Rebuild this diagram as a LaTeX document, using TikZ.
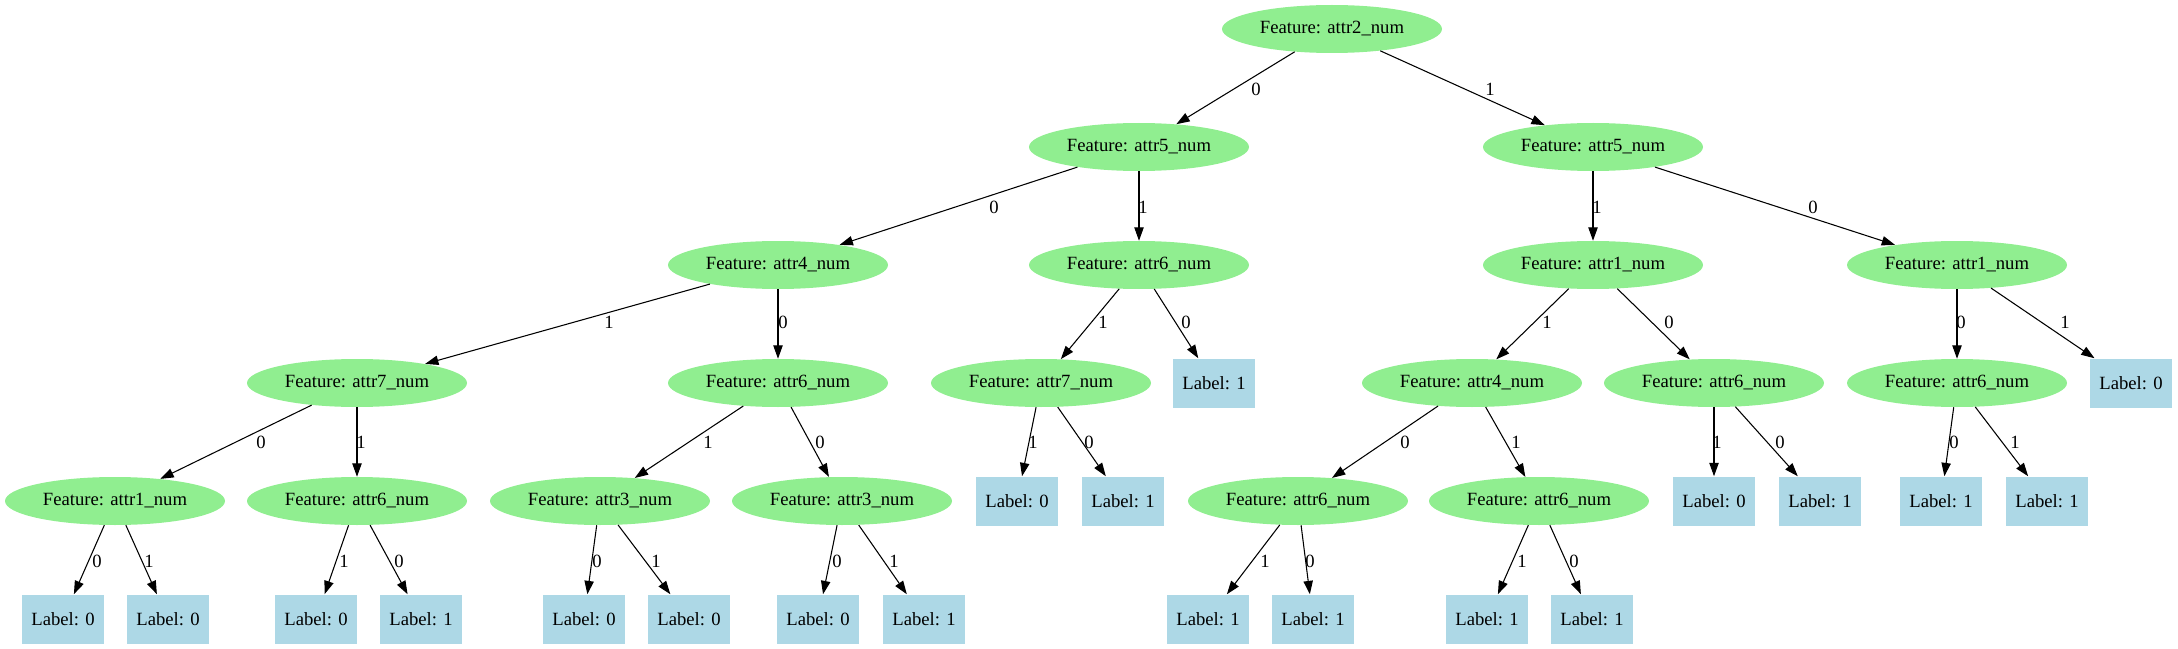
\documentclass[tikz,border=0pt]{standalone}
\usepackage{fontspec}
\setmainfont{Liberation Serif}
\usepackage{xcolor}
\usetikzlibrary{shapes.geometric,arrows.meta}
\definecolor{featgreen}{HTML}{90EE90}
\definecolor{leafblue}{HTML}{ADD8E6}

\begin{document}
\begin{tikzpicture}[x=0.75pt, y=-0.75pt,
                    font=\fontsize{14pt}{16pt}\selectfont,
                    feat/.style={ellipse, fill=featgreen, minimum width=165pt, minimum height=36pt, inner sep=1pt},
                    leaf/.style={rectangle, fill=leafblue, minimum width=61.5pt, minimum height=36.75pt, inner sep=1pt},
                    branch/.style={-{Triangle[length=10pt,width=7pt]}, line width=0.8pt},
                    elab/.style={inner sep=0pt}]
                    \useasboundingbox (0,0) rectangle (2178,649);
                    % root and splits
                    \node[feat] (r) at (1332,29) {Feature: attr2\_num};
                    \node[feat] (a) at (1139,147) {Feature: attr5\_num};
                    \node[feat] (b) at (1593,147) {Feature: attr5\_num};
                    \node[feat] (aa) at (778,265) {Feature: attr4\_num};
                    \node[feat] (ab) at (1139,265) {Feature: attr6\_num};
                    \node[feat] (ba) at (1593,265) {Feature: attr1\_num};
                    \node[feat] (bb) at (1957,265) {Feature: attr1\_num};
                    \node[feat] (aaa) at (357,383) {Feature: attr7\_num};
                    \node[feat] (aab) at (778,383) {Feature: attr6\_num};
                    \node[feat] (aba) at (1041,383) {Feature: attr7\_num};
                    \node[leaf] (abb) at (1214,383) {Label: 1};
                    \node[feat] (baa) at (1472,383) {Feature: attr4\_num};
                    \node[feat] (bab) at (1714,383) {Feature: attr6\_num};
                    \node[feat] (bba) at (1957,383) {Feature: attr6\_num};
                    \node[leaf] (bbb) at (2131,383) {Label: 0};
                    \node[feat] (aaaa) at (115,501) {Feature: attr1\_num};
                    \node[feat] (aaab) at (357,501) {Feature: attr6\_num};
                    \node[feat] (aaba) at (600,501) {Feature: attr3\_num};
                    \node[feat] (aabb) at (842,501) {Feature: attr3\_num};
                    \node[leaf] (abaa) at (1017,501) {Label: 0};
                    \node[leaf] (abab) at (1123,501) {Label: 1};
                    \node[feat] (baaa) at (1298,501) {Feature: attr6\_num};
                    \node[feat] (baab) at (1539,501) {Feature: attr6\_num};
                    \node[leaf] (baba) at (1714,501) {Label: 0};
                    \node[leaf] (babb) at (1820,501) {Label: 1};
                    \node[leaf] (bbaa) at (1941,501) {Label: 1};
                    \node[leaf] (bbab) at (2047,501) {Label: 1};
                    % bottom leaves
                    \node[leaf] (aaaaa) at (63,619) {Label: 0};
                    \node[leaf] (aaaab) at (168,619) {Label: 0};
                    \node[leaf] (aaaba) at (316,619) {Label: 0};
                    \node[leaf] (aaabb) at (421,619) {Label: 1};
                    \node[leaf] (aabaa) at (584,619) {Label: 0};
                    \node[leaf] (aabab) at (689,619) {Label: 0};
                    \node[leaf] (aabba) at (818,619) {Label: 0};
                    \node[leaf] (aabbb) at (924,619) {Label: 1};
                    \node[leaf] (baaaa) at (1208,619) {Label: 1};
                    \node[leaf] (baaab) at (1313,619) {Label: 1};
                    \node[leaf] (baaba) at (1487,619) {Label: 1};
                    \node[leaf] (baabb) at (1592,619) {Label: 1};
                    % branches
                    \draw[branch] (r) -- (a) node[elab] at (1256,89) {0};
                    \draw[branch] (r) -- (b) node[elab] at (1490,89) {1};
                    \draw[branch] (a) -- (aa) node[elab] at (994,207) {0};
                    \draw[branch] (a) -- (ab) node[elab] at (1143,207) {1};
                    \draw[branch] (b) -- (ba) node[elab] at (1597,207) {1};
                    \draw[branch] (b) -- (bb) node[elab] at (1813,207) {0};
                    \draw[branch] (aa) -- (aaa) node[elab] at (609,322) {1};
                    \draw[branch] (aa) -- (aab) node[elab] at (783,322) {0};
                    \draw[branch] (ab) -- (aba) node[elab] at (1103,322) {1};
                    \draw[branch] (ab) -- (abb) node[elab] at (1186,322) {0};
                    \draw[branch] (ba) -- (baa) node[elab] at (1547,322) {1};
                    \draw[branch] (ba) -- (bab) node[elab] at (1669,322) {0};
                    \draw[branch] (bb) -- (bba) node[elab] at (1961,322) {0};
                    \draw[branch] (bb) -- (bbb) node[elab] at (2065,322) {1};
                    \draw[branch] (aaa) -- (aaaa) node[elab] at (261,442) {0};
                    \draw[branch] (aaa) -- (aaab) node[elab] at (361,442) {1};
                    \draw[branch] (aab) -- (aaba) node[elab] at (708,442) {1};
                    \draw[branch] (aab) -- (aabb) node[elab] at (820,442) {0};
                    \draw[branch] (aba) -- (abaa) node[elab] at (1033,442) {1};
                    \draw[branch] (aba) -- (abab) node[elab] at (1089,442) {0};
                    \draw[branch] (baa) -- (baaa) node[elab] at (1405,442) {0};
                    \draw[branch] (baa) -- (baab) node[elab] at (1516,442) {1};
                    \draw[branch] (bab) -- (baba) node[elab] at (1717,442) {1};
                    \draw[branch] (bab) -- (babb) node[elab] at (1780,442) {0};
                    \draw[branch] (bba) -- (bbaa) node[elab] at (1954,442) {0};
                    \draw[branch] (bba) -- (bbab) node[elab] at (2015,442) {1};
                    \draw[branch] (aaaa) -- (aaaaa) node[elab] at (97,561) {0};
                    \draw[branch] (aaaa) -- (aaaab) node[elab] at (149,561) {1};
                    \draw[branch] (aaab) -- (aaaba) node[elab] at (344,561) {1};
                    \draw[branch] (aaab) -- (aaabb) node[elab] at (399,561) {0};
                    \draw[branch] (aaba) -- (aabaa) node[elab] at (597,561) {0};
                    \draw[branch] (aaba) -- (aabab) node[elab] at (656,561) {1};
                    \draw[branch] (aabb) -- (aabba) node[elab] at (837,561) {0};
                    \draw[branch] (aabb) -- (aabbb) node[elab] at (894,561) {1};
                    \draw[branch] (baaa) -- (baaaa) node[elab] at (1265,561) {1};
                    \draw[branch] (baaa) -- (baaab) node[elab] at (1310,561) {0};
                    \draw[branch] (baab) -- (baaba) node[elab] at (1522,561) {1};
                    \draw[branch] (baab) -- (baabb) node[elab] at (1574,561) {0};
                \end{tikzpicture}
\end{document}
